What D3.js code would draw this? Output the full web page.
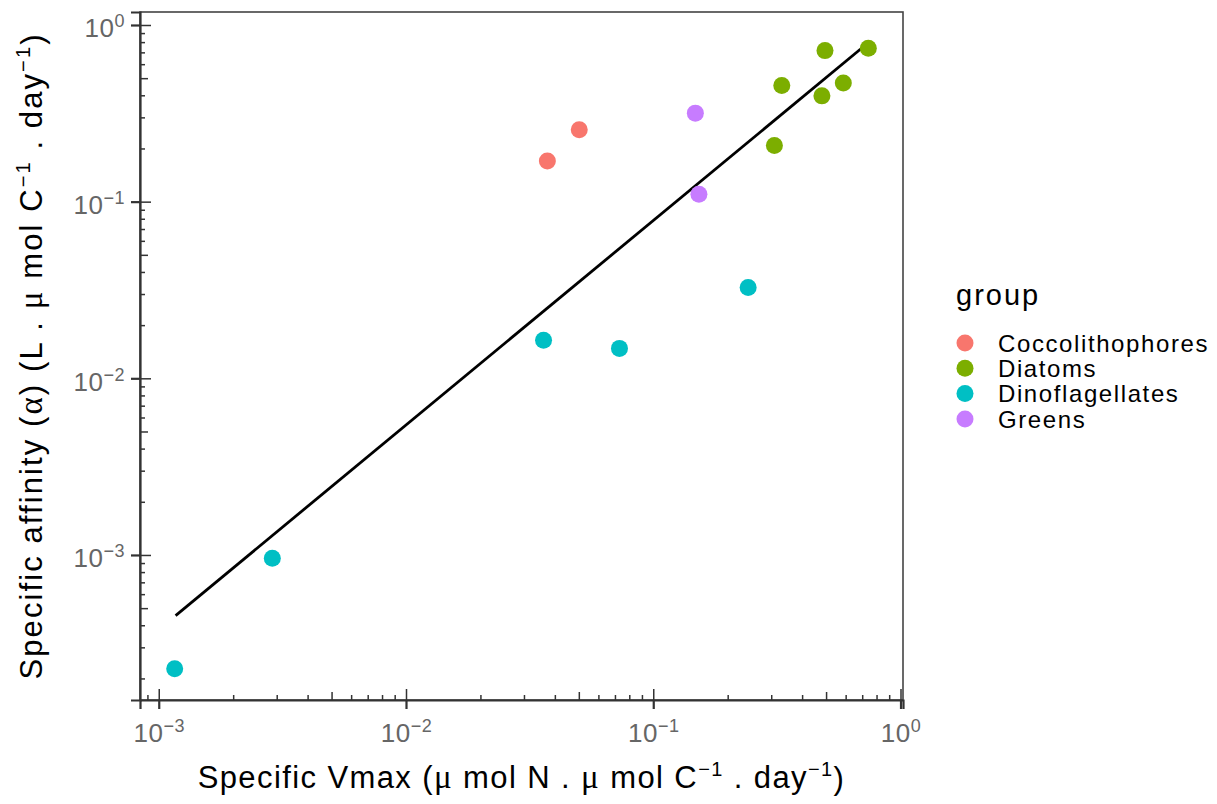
<!DOCTYPE html>
<html>
<head>
<meta charset="utf-8">
<script src="https://cdn.jsdelivr.net/npm/d3@7"></script>
<style>
  body { margin: 0; background: #fff; }
  text { font-family: "Liberation Sans", Arial, sans-serif; }
  .greek { font-family: "Liberation Serif", "DejaVu Serif", serif; }
</style>
</head>
<body>
<script>
// data
const groups = ["Coccolithophores", "Diatoms", "Dinoflagellates", "Greens"];
const colors = ["#F8766D", "#7CAE00", "#00BFC4", "#C77CFF"];

const pointGroup = ["Coccolithophores", "Coccolithophores",
  "Diatoms", "Diatoms", "Diatoms", "Diatoms", "Diatoms", "Diatoms",
  "Dinoflagellates", "Dinoflagellates", "Dinoflagellates", "Dinoflagellates", "Dinoflagellates",
  "Greens", "Greens"];
const vmax = [0.0373, 0.0502,
  0.495, 0.741, 0.331, 0.587, 0.481, 0.309,
  0.0360, 0.0730, 0.242, 0.00288, 0.00116,
  0.148, 0.153];
const affinity = [0.170, 0.255,
  0.716, 0.738, 0.454, 0.469, 0.397, 0.208,
  0.0164, 0.01477, 0.0327, 0.000958, 0.000227,
  0.317, 0.110];

// fitted line end points
const fitX = [0.00117, 0.736];
const fitY = [0.000454, 0.788];

const xTicks = [1e-3, 1e-2, 1e-1, 1];
const yTicks = [1e-3, 1e-2, 1e-1, 1];

// set the dimensions and margins of the graph
const margin = {top: 12, right: 314, bottom: 104, left: 140},
    width = 1217 - margin.left - margin.right,
    height = 804 - margin.top - margin.bottom;

// ggplot-like 5% expansion in log space
const expand = (vals) => {
  const lo = d3.min(vals, v => Math.log10(v)), hi = d3.max(vals, v => Math.log10(v));
  const pad = (hi - lo) * 0.05;
  return [Math.pow(10, lo - pad), Math.pow(10, hi + pad)];
};

const x = d3.scaleLog().domain(expand(vmax.concat(fitX))).range([0, width]);
const y = d3.scaleLog().domain(expand(affinity.concat(fitY))).range([height, 0]);
const color = d3.scaleOrdinal().domain(groups).range(colors);

const svg = d3.select("body").append("svg")
    .attr("width", 1217)
    .attr("height", 804)
  .append("g")
    .attr("transform", `translate(${margin.left},${margin.top})`);

// panel border
svg.append("rect")
    .attr("width", width).attr("height", height)
    .attr("fill", "none").attr("stroke", "#444").attr("stroke-width", 1.6);

// minor ticks, all decades
const minorVals = (sc) => {
  const [a, b] = sc.domain();
  const out = [];
  for (let e = Math.floor(Math.log10(a)); e <= Math.ceil(Math.log10(b)); e++) {
    for (let m = 2; m <= 9; m++) {
      const v = m * Math.pow(10, e);
      if (v >= a && v <= b) out.push(v);
    }
  }
  return out;
};

const styleAxis = (g) => {
  g.select(".domain").remove();
  g.selectAll("line").attr("stroke", "#333").attr("stroke-width", 1.5);
};

// x minor ticks (inside)
svg.append("g").attr("transform", `translate(0,${height})`)
    .call(d3.axisBottom(x).tickValues(minorVals(x).filter(v => !/^5/.test(v.toExponential())))
      .tickSize(-5).tickFormat(""))
    .call(styleAxis);
svg.append("g").attr("transform", `translate(0,${height})`)
    .call(d3.axisBottom(x).tickValues(minorVals(x).filter(v => /^5/.test(v.toExponential())))
      .tickSize(-8).tickFormat(""))
    .call(styleAxis);
svg.append("g").attr("transform", `translate(0,${height})`)
    .call(d3.axisBottom(x).tickValues(xTicks).tickSize(-11).tickFormat(""))
    .call(styleAxis);

// y minor ticks (inside)
svg.append("g")
    .call(d3.axisLeft(y).tickValues(minorVals(y).filter(v => !/^5/.test(v.toExponential())))
      .tickSize(-5).tickFormat(""))
    .call(styleAxis);
svg.append("g")
    .call(d3.axisLeft(y).tickValues(minorVals(y).filter(v => /^5/.test(v.toExponential())))
      .tickSize(-8).tickFormat(""))
    .call(styleAxis);
svg.append("g")
    .call(d3.axisLeft(y).tickValues(yTicks).tickSize(-11).tickFormat(""))
    .call(styleAxis);

// power label helper
const powLabel = (sel) => {
  sel.each(function(d) {
    const t = d3.select(this);
    t.text(null);
    t.append("tspan").text("10");
    t.append("tspan").attr("dy", "-0.55em").attr("font-size", "18px")
      .text(d3.format("d")(Math.log10(d)).replace("-", "\u2212"));
  });
};

// x axis with labels
const gx = svg.append("g").attr("transform", `translate(0,${height})`)
    .call(d3.axisBottom(x).tickValues(xTicks).tickSize(9).tickPadding(8));
gx.select(".domain").attr("stroke", "#333").attr("stroke-width", 2.2);
gx.selectAll("line").attr("stroke", "#333").attr("stroke-width", 2.2);
gx.selectAll("text").attr("fill", "#666").attr("font-size", "26px").attr("dy", "0.95em")
    .attr("letter-spacing", "0.5px")
    .call(powLabel);

// y axis with labels
const gy = svg.append("g")
    .call(d3.axisLeft(y).tickValues(yTicks).tickSize(9).tickPadding(6));
gy.select(".domain").attr("stroke", "#333").attr("stroke-width", 2.2);
gy.selectAll("line").attr("stroke", "#333").attr("stroke-width", 2.2);
gy.selectAll("text").attr("fill", "#666").attr("font-size", "26px").attr("dy", "0.45em")
    .attr("letter-spacing", "0.5px")
    .call(powLabel);

// fitted line
svg.append("line")
    .attr("x1", x(fitX[0])).attr("y1", y(fitY[0]))
    .attr("x2", x(fitX[1])).attr("y2", y(fitY[1]))
    .attr("stroke", "#000").attr("stroke-width", 2.8);

// points
svg.selectAll(".dot")
    .data(vmax.map((v, i) => ({v: v, a: affinity[i], g: pointGroup[i]})))
  .enter().append("circle")
    .attr("class", "dot")
    .attr("cx", d => x(d.v))
    .attr("cy", d => y(d.a))
    .attr("r", 8.5)
    .attr("fill", d => color(d.g));

// axis titles
const title = (t, parts) => {
  parts.forEach(p => {
    const s = t.append("tspan").text(p.t);
    if (p.greek) s.attr("class", "greek").attr("font-size", "33px");
    if (p.sup) s.attr("font-size", "20px").attr("dy", "-0.6em");
    if (p.down) s.attr("dy", "0.4em");
  });
};

const xt = svg.append("text")
    .attr("x", width / 2).attr("y", height + 88)
    .attr("text-anchor", "middle").attr("font-size", "31px").attr("fill", "#000")
    .attr("letter-spacing", "1.4px");
title(xt, [
  {t: "Specific Vmax ("}, {t: "\u03bc", greek: true}, {t: " mol N . "},
  {t: "\u03bc", greek: true}, {t: " mol C"}, {t: "\u22121", sup: true},
  {t: " . day", down: true}, {t: "\u22121", sup: true}, {t: ")", down: true}
]);

const yt = svg.append("text")
    .attr("transform", `translate(${-98},${height / 2}) rotate(-90)`)
    .attr("text-anchor", "middle").attr("font-size", "31px").attr("fill", "#000")
    .attr("letter-spacing", "2.1px");
title(yt, [
  {t: "Specific affinity ("}, {t: "\u03b1", greek: true}, {t: ") (L . "},
  {t: "\u03bc", greek: true}, {t: " mol C"}, {t: "\u22121", sup: true},
  {t: " . day", down: true}, {t: "\u22121", sup: true}, {t: ")", down: true}
]);

// legend
const legend = svg.append("g").attr("transform", `translate(${width + 53},0)`);
legend.append("text").attr("x", 0).attr("y", 293)
    .attr("font-size", "29px").attr("fill", "#000").attr("letter-spacing", "2px")
    .text("group");
const items = legend.selectAll(".item").data(groups).enter().append("g")
    .attr("transform", (d, i) => `translate(0,${331 + i * 25.3})`);
items.append("circle").attr("cx", 9).attr("r", 8.5).attr("fill", d => color(d));
items.append("text").attr("x", 42).attr("dy", "0.36em")
    .attr("font-size", "24px").attr("fill", "#000").attr("letter-spacing", "1.6px")
    .text(d => d);
</script>
</body>
</html>
